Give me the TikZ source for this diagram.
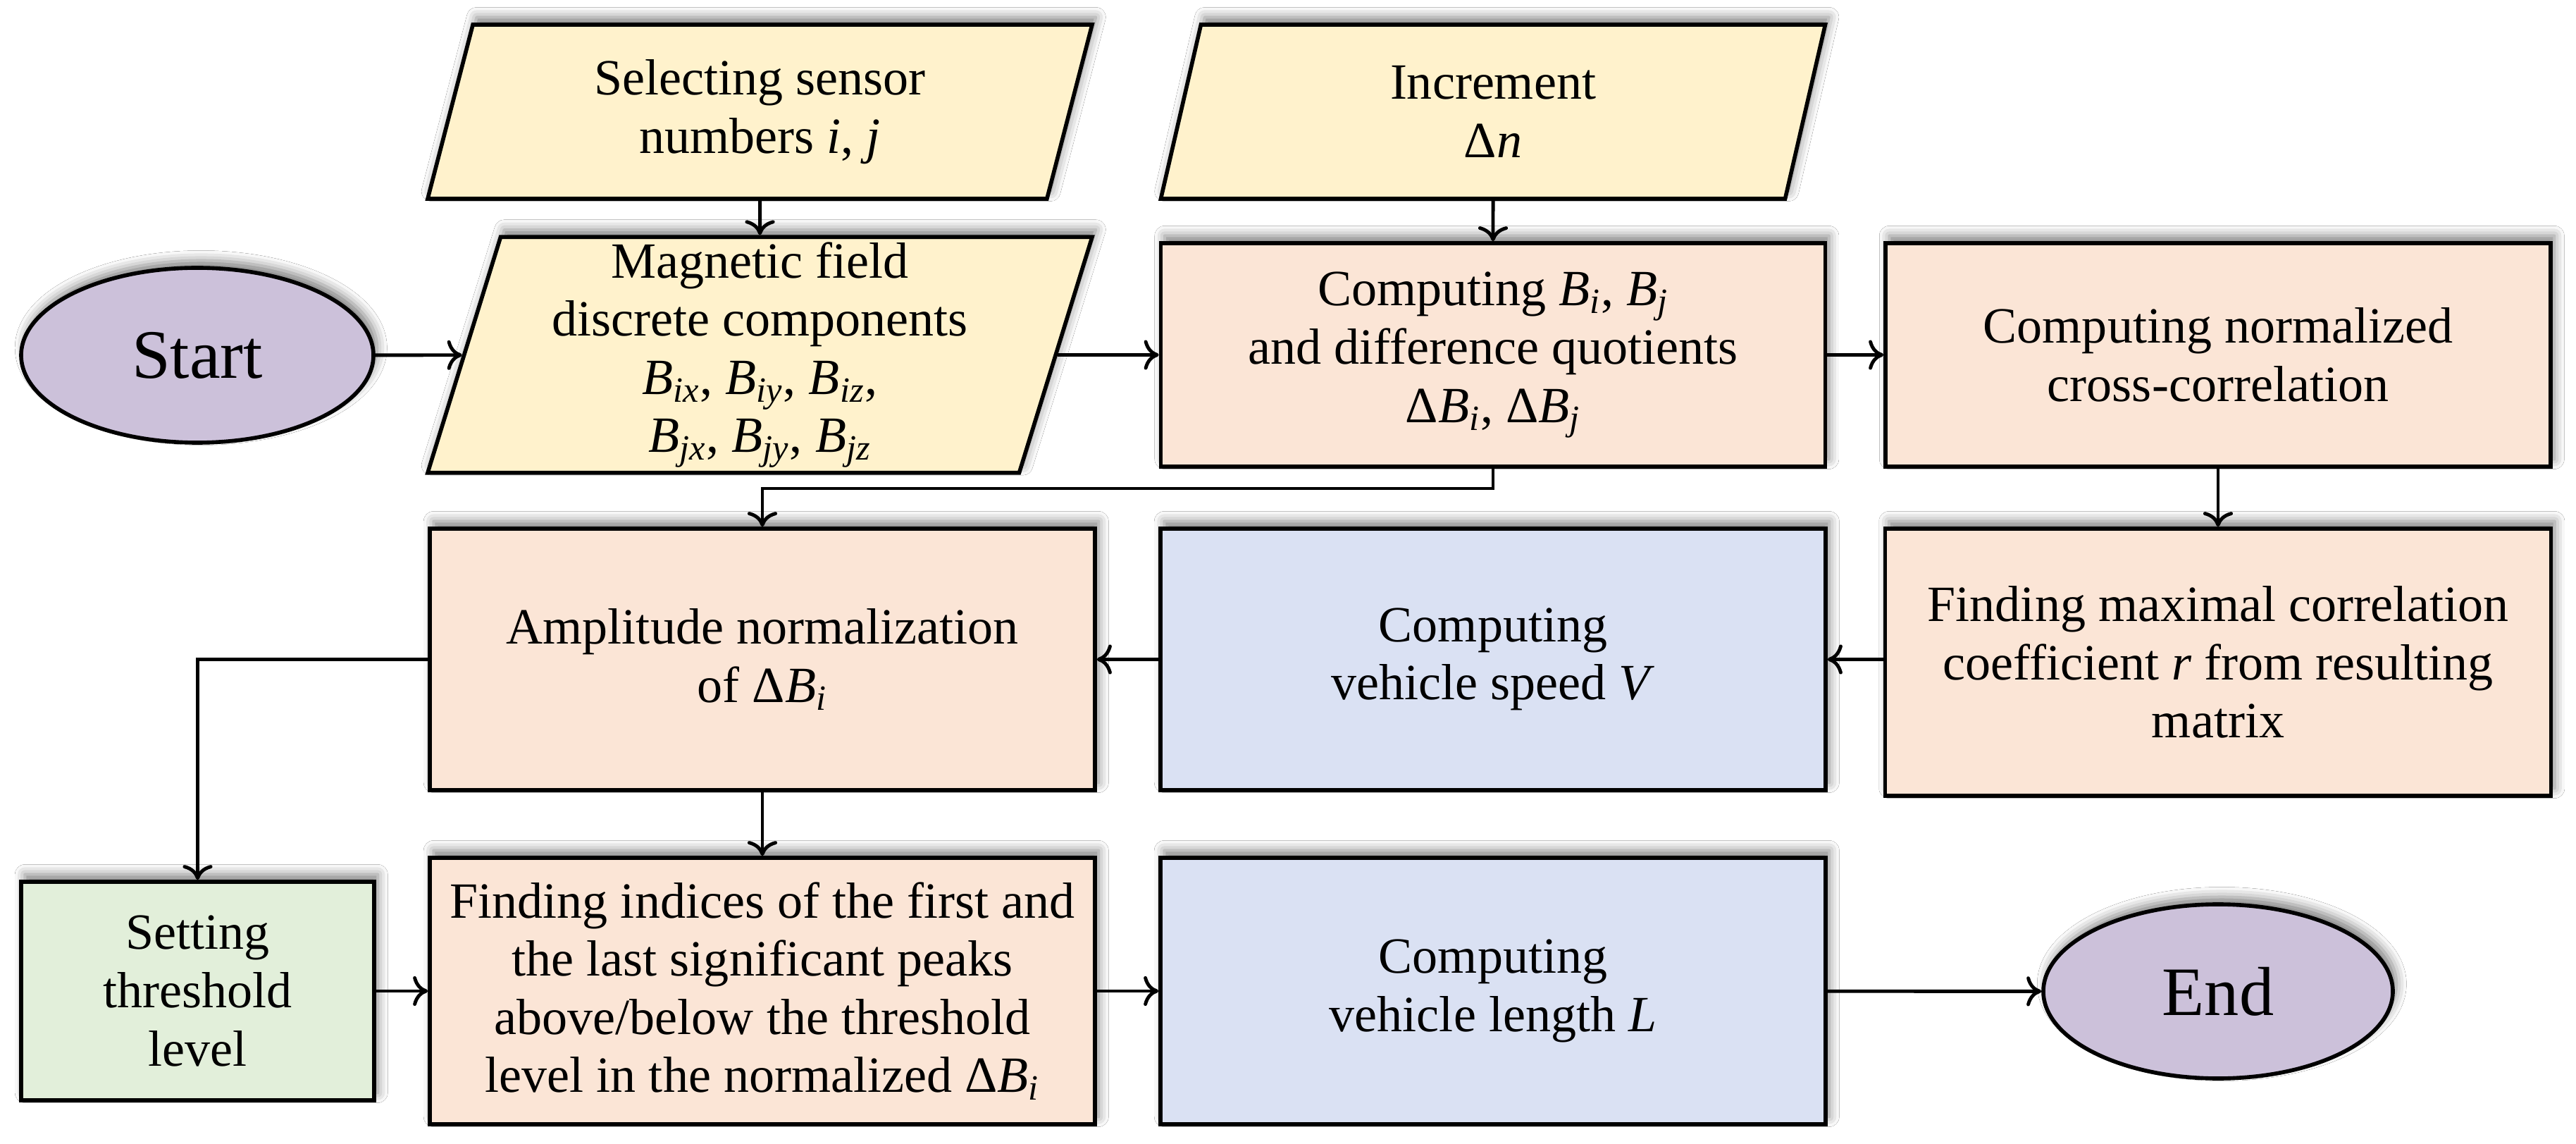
\documentclass[tikz,border=0pt]{standalone}
\usepackage{fontspec}
\setmainfont{Liberation Serif}
\usetikzlibrary{shapes.geometric,arrows.meta,shadows.blur}
\newcommand{\Bsub}[1]{\textit{B}\textsubscript{\textit{#1}}}
\definecolor{cyel}{RGB}{255,242,204}
\definecolor{corg}{RGB}{251,229,214}
\definecolor{cblu}{RGB}{218,225,243}
\definecolor{cgrn}{RGB}{226,239,218}
\definecolor{cpur}{RGB}{204,193,218}
\tikzset{
  base/.style={draw=black, line width=1.6pt, align=center, inner sep=2pt,
    font=\fontsize{20.5}{23.5}\selectfont,
    blur shadow={shadow xshift=1.5pt, shadow yshift=3pt, shadow blur radius=4pt, shadow opacity=50}},
  boxnode/.style={base, rectangle},
  paranode/.style={base, trapezium, trapezium stretches body, fill=cyel, minimum width=9.43cm},
  termnode/.style={base, ellipse, fill=cpur, font=\fontsize{28}{31}\selectfont},
  arr/.style={line width=1.4pt, -{To[length=6pt,width=12pt]}}
}
\begin{document}
\begin{tikzpicture}
\useasboundingbox (0,0) rectangle (36.56,-16.23);
\fill[white] (0,0) rectangle (36.56,-16.23);

% row 1
\node[paranode, trapezium left angle=68.4, trapezium right angle=111.6, minimum height=2.47cm]
  (sel) at (10.785,-1.585) {Selecting sensor\\numbers \textit{i}, \textit{j}};
\node[paranode, trapezium left angle=68.4, trapezium right angle=111.6, minimum height=2.47cm]
  (inc) at (21.19,-1.585) {Increment\\Δ\textit{n}};

% row 2
\node[termnode, minimum width=5.0cm, minimum height=2.48cm] (start) at (2.80,-5.04) {Start};
\node[paranode, trapezium left angle=72.8, trapezium right angle=107.2, minimum height=3.17cm]
  (magn) at (10.785,-5.035) {Magnetic field\\discrete components\\\Bsub{ix}, \Bsub{iy}, \Bsub{iz},\\\Bsub{jx}, \Bsub{jy}, \Bsub{jz}};
\node[boxnode, fill=corg, minimum width=9.43cm, minimum height=3.17cm]
  (compB) at (21.19,-5.035) {Computing \Bsub{i}, \Bsub{j}\\and difference quotients\\Δ\Bsub{i}, Δ\Bsub{j}};
\node[boxnode, fill=corg, minimum width=9.44cm, minimum height=3.17cm]
  (cross) at (31.48,-5.035) {Computing normalized\\cross-correlation};

% row 3
\node[boxnode, fill=corg, minimum width=9.44cm, minimum height=3.71cm]
  (ampl) at (10.82,-9.355) {Amplitude normalization\\of Δ\Bsub{i}};
\node[boxnode, fill=cblu, minimum width=9.44cm, minimum height=3.71cm]
  (speed) at (21.19,-9.355) {Computing\\vehicle speed \textit{V}};
\node[boxnode, fill=corg, minimum width=9.45cm, minimum height=3.79cm]
  (findmax) at (31.48,-9.395) {Finding maximal correlation\\coefficient \textit{r} from resulting\\matrix};

% row 4
\node[boxnode, fill=cgrn, minimum width=5.01cm, minimum height=3.10cm]
  (setting) at (2.805,-14.06) {Setting\\threshold\\level};
\node[boxnode, fill=corg, minimum width=9.44cm, minimum height=3.78cm]
  (findidx) at (10.82,-14.06) {Finding indices of the first and\\the last significant peaks\\above/below the threshold\\level in the normalized Δ\Bsub{i}};
\node[boxnode, fill=cblu, minimum width=9.44cm, minimum height=3.78cm]
  (length) at (21.19,-14.06) {Computing\\vehicle length \textit{L}};
\node[termnode, minimum width=4.96cm, minimum height=2.47cm] (stop) at (31.48,-14.065) {End};

% connectors
\coordinate (j1) at (0,-6.93);
\draw[arr] (sel) -- (magn);
\draw[arr] (inc) -- (compB);
\draw[arr] (start) -- (magn);
\draw[arr] (magn) -- (compB);
\draw[arr] (compB) -- (cross);
\draw[arr] (cross) -- (findmax);
\draw[arr] (findmax.west |- speed.east) -- (speed.east);
\draw[arr] (speed) -- (ampl);
\draw[arr] (compB.south) |- (ampl.north |- j1) -- (ampl.north);
\draw[arr] (ampl.west) -| (setting.north);
\draw[arr] (ampl) -- (findidx);
\draw[arr] (setting) -- (findidx);
\draw[arr] (findidx) -- (length);
\draw[arr] (length) -- (stop);
\end{tikzpicture}
\end{document}
